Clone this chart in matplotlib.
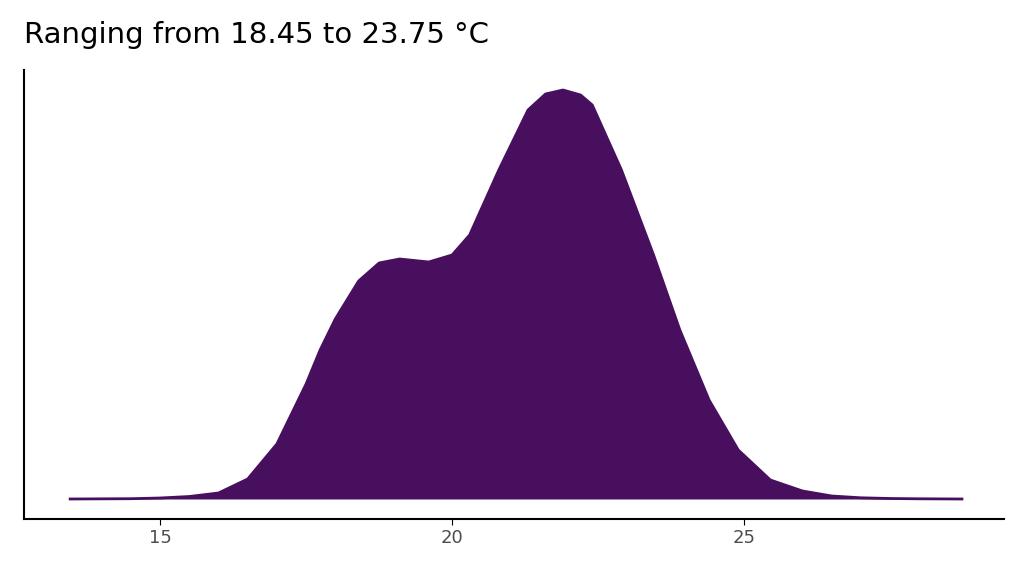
import matplotlib.pyplot as plt

# temperature (°C) and density height (relative units)
temp = [13.46, 14.5, 15.0, 15.5, 16.0, 16.5, 17.0, 17.5, 17.74, 18.0, 18.4, 18.75, 19.1,
        19.6, 20.0, 20.3, 20.8, 21.3, 21.6, 21.9, 22.2, 22.4, 22.9, 23.45, 23.9, 24.4,
        24.9, 25.45, 26.0, 26.5, 27.0, 27.5, 28.0, 28.73]
density = [0, 0.3, 1, 2.5, 6, 20, 55, 115, 149, 180, 218, 236, 240,
           237, 244, 264, 329, 389, 405, 409, 404, 394, 329, 244, 169, 99,
           49, 19, 8, 3, 1.2, 0.5, 0.2, 0]
ticks = [15, 20, 25]

fill = "#480F5E"

fig = plt.figure(figsize=(10.24, 5.76), dpi=100)
ax = fig.add_axes([24 / 1024, 57 / 576, 980 / 1024, 449 / 576])

ax.fill_between(temp, 0, density, color=fill, lw=0)
ax.plot(temp, density, color=fill, lw=2)

ax.set_xlim(12.67, 29.45)
ax.set_ylim(-20, 429)
ax.set_xticks(ticks)
ax.set_xticklabels([str(t) for t in ticks], fontsize=13, color="#4d4d4d")
ax.set_yticks([])
ax.tick_params(axis="x", length=4, color="black")
for s in ["top", "right"]:
    ax.spines[s].set_visible(False)
for s in ["left", "bottom"]:
    ax.spines[s].set_linewidth(1.5)

fig.text(24 / 1024, 1 - 35 / 576, "Ranging from 18.45 to 23.75 °C", fontsize=21,
         va="center", ha="left")

fig.savefig("out.png", dpi=100)
